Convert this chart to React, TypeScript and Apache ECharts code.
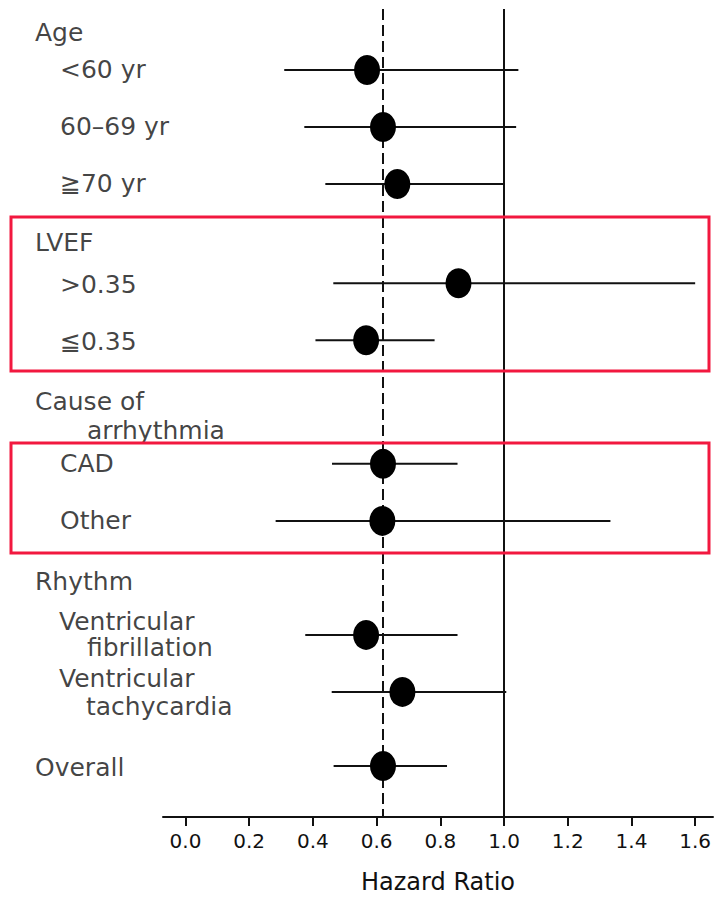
import React, { useEffect, useRef } from "react";
import * as echarts from "echarts";

// ---- data ----
const subgroups = [
  "<60 yr",
  "60–69 yr",
  "≧70 yr",
  ">0.35",
  "≦0.35",
  "CAD",
  "Other",
  "Ventricular fibrillation",
  "Ventricular tachycardia",
  "Overall",
];
const hazardRatio = [0.57, 0.62, 0.665, 0.857, 0.567, 0.62, 0.618, 0.567, 0.681, 0.62];
const ciLower = [0.31, 0.373, 0.439, 0.464, 0.408, 0.46, 0.283, 0.376, 0.459, 0.465];
const ciUpper = [1.045, 1.038, 1.0, 1.6, 0.782, 0.854, 1.334, 0.854, 1.007, 0.821];
const xTicks = [0, 0.2, 0.4, 0.6, 0.8, 1.0, 1.2, 1.4, 1.6];
const overallHR = 0.62;
const nullHR = 1.0;

// ---- layout (row positions on the vertical scale, label indents) ----
const subgroupRows = [1, 2, 3, 4.74, 5.74, 7.91, 8.91, 10.91, 11.91, 13.21];
const labelTexts = [
  "Age", "<60 yr", "60–69 yr", "≧70 yr",
  "LVEF", ">0.35", "≦0.35",
  "Cause of", "arrhythmia", "CAD", "Other",
  "Rhythm", "Ventricular", "fibrillation", "Ventricular", "tachycardia",
  "Overall",
];
const labelRows = [
  0.351, 1.0, 2.0, 3.0,
  4.035, 4.755, 5.755,
  6.807, 7.316, 7.912, 8.912,
  9.965, 10.667, 11.123, 11.684, 12.158,
  13.228,
];
const labelX = [
  35, 60, 60, 60,
  35, 60, 60,
  35, 87, 60, 60,
  35, 59, 87, 59, 86,
  35,
];

const W = 722;
const H = 897;
const GRID_LEFT = 163;
const GRID_RIGHT = 9;
const GRID_TOP = 9;
const GRID_BOTTOM = 80;
const X_MIN = -0.0706;
const X_MAX = 1.656;
const Y_MIN = -0.07;
const Y_MAX = 14.105;
const INK = "#111111";
const TEXT = "#111111";
const FONT = "DejaVu Sans";
const BOX = "#f2183f";

export default function App() {
  const ref = useRef<HTMLDivElement>(null);

  useEffect(() => {
    document.body.style.margin = "0";
    if (!ref.current) return;
    const chart = echarts.init(ref.current, undefined, { renderer: "svg" });

    const ciData = subgroups.map((_, i) => [ciLower[i], ciUpper[i], subgroupRows[i]]);
    const pointData = subgroups.map((name, i) => ({ name, value: [hazardRatio[i], subgroupRows[i]] }));
    const labelData = labelTexts.map((t, i) => ({
      value: [X_MIN, labelRows[i]],
      label: { position: [labelX[i] - GRID_LEFT, 0] as any, formatter: t },
    }));

    chart.setOption({
      animation: false,
      backgroundColor: "#ffffff",
      grid: {
        left: GRID_LEFT,
        right: GRID_RIGHT,
        top: GRID_TOP,
        bottom: GRID_BOTTOM,
        containLabel: false,
        outerBoundsMode: "none",
      },
      xAxis: {
        type: "value",
        min: X_MIN,
        max: X_MAX,
        splitLine: { show: false },
        axisLine: { show: true, onZero: false, lineStyle: { color: INK, width: 2 } },
        axisTick: {
          show: true,
          customValues: xTicks,
          length: 9,
          lineStyle: { color: INK, width: 2 },
        },
        axisLabel: {
          customValues: xTicks,
          formatter: (v: number) => v.toFixed(1),
          fontFamily: FONT,
          fontSize: 20,
          color: TEXT,
          margin: 14,
        },
        name: "Hazard Ratio",
        nameLocation: "middle",
        nameGap: 53,
        nameTextStyle: { fontFamily: FONT, fontSize: 24, lineHeight: 24, color: TEXT },
      },
      yAxis: {
        type: "value",
        inverse: true,
        min: Y_MIN,
        max: Y_MAX,
        show: false,
      },
      graphic: [
        {
          type: "rect",
          shape: { x: 11, y: 217, width: 698, height: 154 },
          style: { fill: "none", stroke: BOX, lineWidth: 3 },
          z: 100,
        },
        {
          type: "rect",
          shape: { x: 11, y: 443, width: 698, height: 110 },
          style: { fill: "none", stroke: BOX, lineWidth: 3 },
          z: 100,
        },
      ],
      series: [
        {
          type: "custom",
          name: "CI",
          data: ciData,
          encode: { x: [0, 1], y: 2 },
          clip: false,
          z: 3,
          renderItem: (params: any, api: any) => {
            const p1 = api.coord([api.value(0), api.value(2)]);
            const p2 = api.coord([api.value(1), api.value(2)]);
            return {
              type: "line",
              shape: { x1: p1[0], y1: p1[1], x2: p2[0], y2: p2[1] },
              style: { stroke: INK, lineWidth: 2 },
            };
          },
          markLine: {
            silent: true,
            symbol: ["none", "none"],
            label: { show: false },
            data: [
              { xAxis: overallHR, lineStyle: { type: [11, 5], color: INK, width: 2 } },
              { xAxis: nullHR, lineStyle: { type: "solid", color: INK, width: 2 } },
            ],
          },
        },
        {
          type: "scatter",
          name: "HR",
          data: pointData,
          symbol: "circle",
          symbolSize: [26, 30],
          itemStyle: { color: "#000000", opacity: 1 },
          z: 10,
        },
        {
          type: "scatter",
          name: "labels",
          data: labelData,
          symbolSize: 0,
          clip: false,
          silent: true,
          label: {
            show: true,
            align: "left",
            verticalAlign: "middle",
            fontFamily: FONT,
            fontSize: 25,
            color: TEXT,
          },
        },
      ],
    });

    return () => chart.dispose();
  }, []);

  return <div ref={ref} style={{ width: W, height: H }} />;
}
